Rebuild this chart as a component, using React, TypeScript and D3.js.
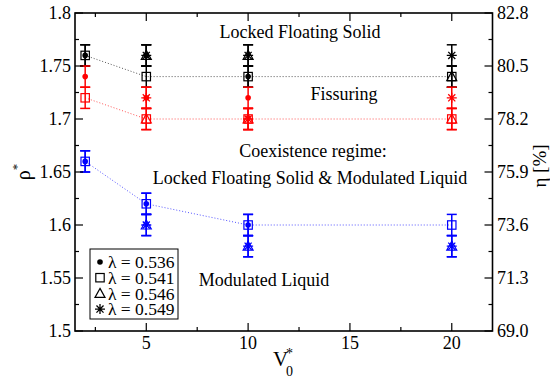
import React from 'react';
import * as d3 from 'd3';

// V0* values and rho* values (null = no point)
const V0 = [2, 5, 10, 20];
const lambdaLabels = ['0.536', '0.541', '0.546', '0.549'];
const symbolKinds = ['circle', 'square', 'triangle', 'star'];

const solidCircle = [1.76, 1.76, 1.74, null];
const solidSquare = [1.76, 1.74, 1.74, 1.74];
const solidTriangle = [null, 1.76, 1.76, 1.74];
const solidStar = [null, 1.76, 1.76, 1.76];

const fissCircle = [1.74, 1.72, 1.72, null];
const fissSquare = [1.72, 1.70, 1.70, 1.70];
const fissTriangle = [null, 1.70, 1.70, 1.70];
const fissStar = [null, 1.72, 1.70, 1.72];

const liqCircle = [1.66, 1.62, 1.60, null];
const liqSquare = [1.66, 1.62, 1.60, 1.60];
const liqTriangle = [null, 1.60, 1.58, 1.58];
const liqStar = [null, 1.60, 1.58, 1.58];

const rhoError = 0.01;

const xTicks = [5, 10, 15, 20];
const xMinor = [2.5, 7.5, 12.5, 17.5];
const yTicks = [1.5, 1.55, 1.6, 1.65, 1.7, 1.75, 1.8];
const yMinor = [1.525, 1.575, 1.625, 1.675, 1.725, 1.775];
const etaTicks = ['69.0', '71.3', '73.6', '75.9', '78.2', '80.5', '82.8'];

const phases = [
  { color: '#000000', lineColor: '#555555', series: [solidCircle, solidSquare, solidTriangle, solidStar] },
  { color: '#ff0000', lineColor: '#ff5555', series: [fissCircle, fissSquare, fissTriangle, fissStar] },
  { color: '#0000ff', lineColor: '#5555ff', series: [liqCircle, liqSquare, liqTriangle, liqStar] },
];

const W = 550;
const H = 378;
const L = 75, R = 492.5, T = 13, B = 331;
const FONT = "'Liberation Serif', 'Times New Roman', Times, serif";

function Marker({ kind, x, y, color }: { kind: string; x: number; y: number; color: string }) {
  if (kind === 'circle') return <circle cx={x} cy={y} r={2.8} fill={color} />;
  if (kind === 'square')
    return <rect x={x - 4.2} y={y - 4.2} width={8.4} height={8.4} fill="none" stroke={color} strokeWidth={1.2} />;
  if (kind === 'triangle') {
    const p = `M${x},${y - 5} L${x + 5},${y + 4} L${x - 5},${y + 4} Z`;
    return <path d={p} fill="none" stroke={color} strokeWidth={1.2} />;
  }
  const r = 5;
  const d = r * Math.SQRT1_2;
  const p = `M${x - r},${y}H${x + r}M${x},${y - r}V${y + r}M${x - d},${y - d}L${x + d},${y + d}M${x - d},${y + d}L${x + d},${y - d}`;
  return <path d={p} stroke={color} strokeWidth={1.3} fill="none" />;
}

export default function App() {
  const x = d3.scaleLinear().domain([1.5, 22]).range([L, R]);
  const y = d3.scaleLinear().domain([1.5, 1.8]).range([B, T]);
  const line = d3.line<[number, number]>().x(d => x(d[0])).y(d => y(d[1]));

  return (
    <svg width={W} height={H} style={{ position: 'absolute', left: 0, top: 0, background: '#fff', fontFamily: FONT }}>
      {/* dotted connecting lines (square series) */}
      {phases.map((ph, i) => {
        const pts = V0.map((v, j) => [v, ph.series[1][j]] as [number, number]);
        return <path key={'l' + i} d={line(pts) || ''} fill="none" stroke={ph.lineColor} strokeWidth={1} strokeDasharray="1,2" />;
      })}

      {/* error bars and markers */}
      {phases.map((ph, i) =>
        ph.series.map((s, k) =>
          s.map((v, j) => {
            if (v == null) return null;
            const cx = x(V0[j]);
            const y0 = y(v + rhoError), y1 = y(v - rhoError);
            return (
              <g key={`m${i}-${k}-${j}`}>
                <line x1={cx} x2={cx} y1={y0} y2={y1} stroke={ph.color} strokeWidth={1.5} />
                <line x1={cx - 5} x2={cx + 5} y1={y0} y2={y0} stroke={ph.color} strokeWidth={1.5} />
                <line x1={cx - 5} x2={cx + 5} y1={y1} y2={y1} stroke={ph.color} strokeWidth={1.5} />
                <Marker kind={symbolKinds[k]} x={cx} y={y(v)} color={ph.color} />
              </g>
            );
          })
        )
      )}

      {/* frame */}
      <rect x={L} y={T} width={R - L} height={B - T} fill="none" stroke="#000" strokeWidth={1.6} />

      {/* x ticks (bottom and top, inward) */}
      {xTicks.map(t => (
        <g key={'xt' + t}>
          <line x1={x(t)} x2={x(t)} y1={B} y2={B - 8} stroke="#000" strokeWidth={1.2} />
          <line x1={x(t)} x2={x(t)} y1={T} y2={T + 8} stroke="#000" strokeWidth={1.2} />
          <text x={x(t)} y={349} fontSize={18} textAnchor="middle">{t}</text>
        </g>
      ))}
      {xMinor.map(t => (
        <g key={'xm' + t}>
          <line x1={x(t)} x2={x(t)} y1={B} y2={B - 4} stroke="#000" strokeWidth={1.2} />
          <line x1={x(t)} x2={x(t)} y1={T} y2={T + 4} stroke="#000" strokeWidth={1.2} />
        </g>
      ))}

      {/* y ticks left and right */}
      {yTicks.map((t, i) => (
        <g key={'yt' + t}>
          <line x1={L} x2={L + 8} y1={y(t)} y2={y(t)} stroke="#000" strokeWidth={1.2} />
          <line x1={R} x2={R - 8} y1={y(t)} y2={y(t)} stroke="#000" strokeWidth={1.2} />
          <text x={71} y={y(t)} dy="0.35em" fontSize={18} textAnchor="end">{d3.format('')(+t.toFixed(2))}</text>
          <text x={497} y={y(t)} dy="0.35em" fontSize={18} textAnchor="start">{etaTicks[i]}</text>
        </g>
      ))}
      {yMinor.map(t => (
        <g key={'ym' + t}>
          <line x1={L} x2={L + 4} y1={y(t)} y2={y(t)} stroke="#000" strokeWidth={1.2} />
          <line x1={R} x2={R - 4} y1={y(t)} y2={y(t)} stroke="#000" strokeWidth={1.2} />
        </g>
      ))}

      {/* axis titles */}
      <text transform="translate(30,172) rotate(-90)" fontSize={20} textAnchor="middle">
        ρ<tspan fontSize={13} dy={-9}>*</tspan>
      </text>
      <text transform="translate(546,166) rotate(-90)" fontSize={19} textAnchor="middle">η [%]</text>
      <text x={273} y={366} fontSize={21}>V</text>
      <text x={286} y={358} fontSize={14}>*</text>
      <text x={286} y={375.5} fontSize={14}>0</text>

      {/* region annotations */}
      <text x={300} y={38} fontSize={18} textAnchor="middle">Locked Floating Solid</text>
      <text x={344} y={100} fontSize={18} textAnchor="middle">Fissuring</text>
      <text x={313} y={157} fontSize={18} textAnchor="middle">Coexistence regime:</text>
      <text x={310} y={184} fontSize={18} textAnchor="middle">Locked Floating Solid &amp; Modulated Liquid</text>
      <text x={264} y={286} fontSize={18} textAnchor="middle">Modulated Liquid</text>

      {/* legend */}
      <rect x={90} y={249} width={88} height={70} fill="#fff" stroke="#000" strokeWidth={1} />
      {lambdaLabels.map((lab, i) => {
        const ly = 262 + i * 15.7;
        return (
          <g key={'lg' + i}>
            <Marker kind={symbolKinds[i]} x={100} y={ly} color="#000" />
            <text x={108} y={ly} dy="0.35em" fontSize={17.5}>λ = {lab}</text>
          </g>
        );
      })}
    </svg>
  );
}
